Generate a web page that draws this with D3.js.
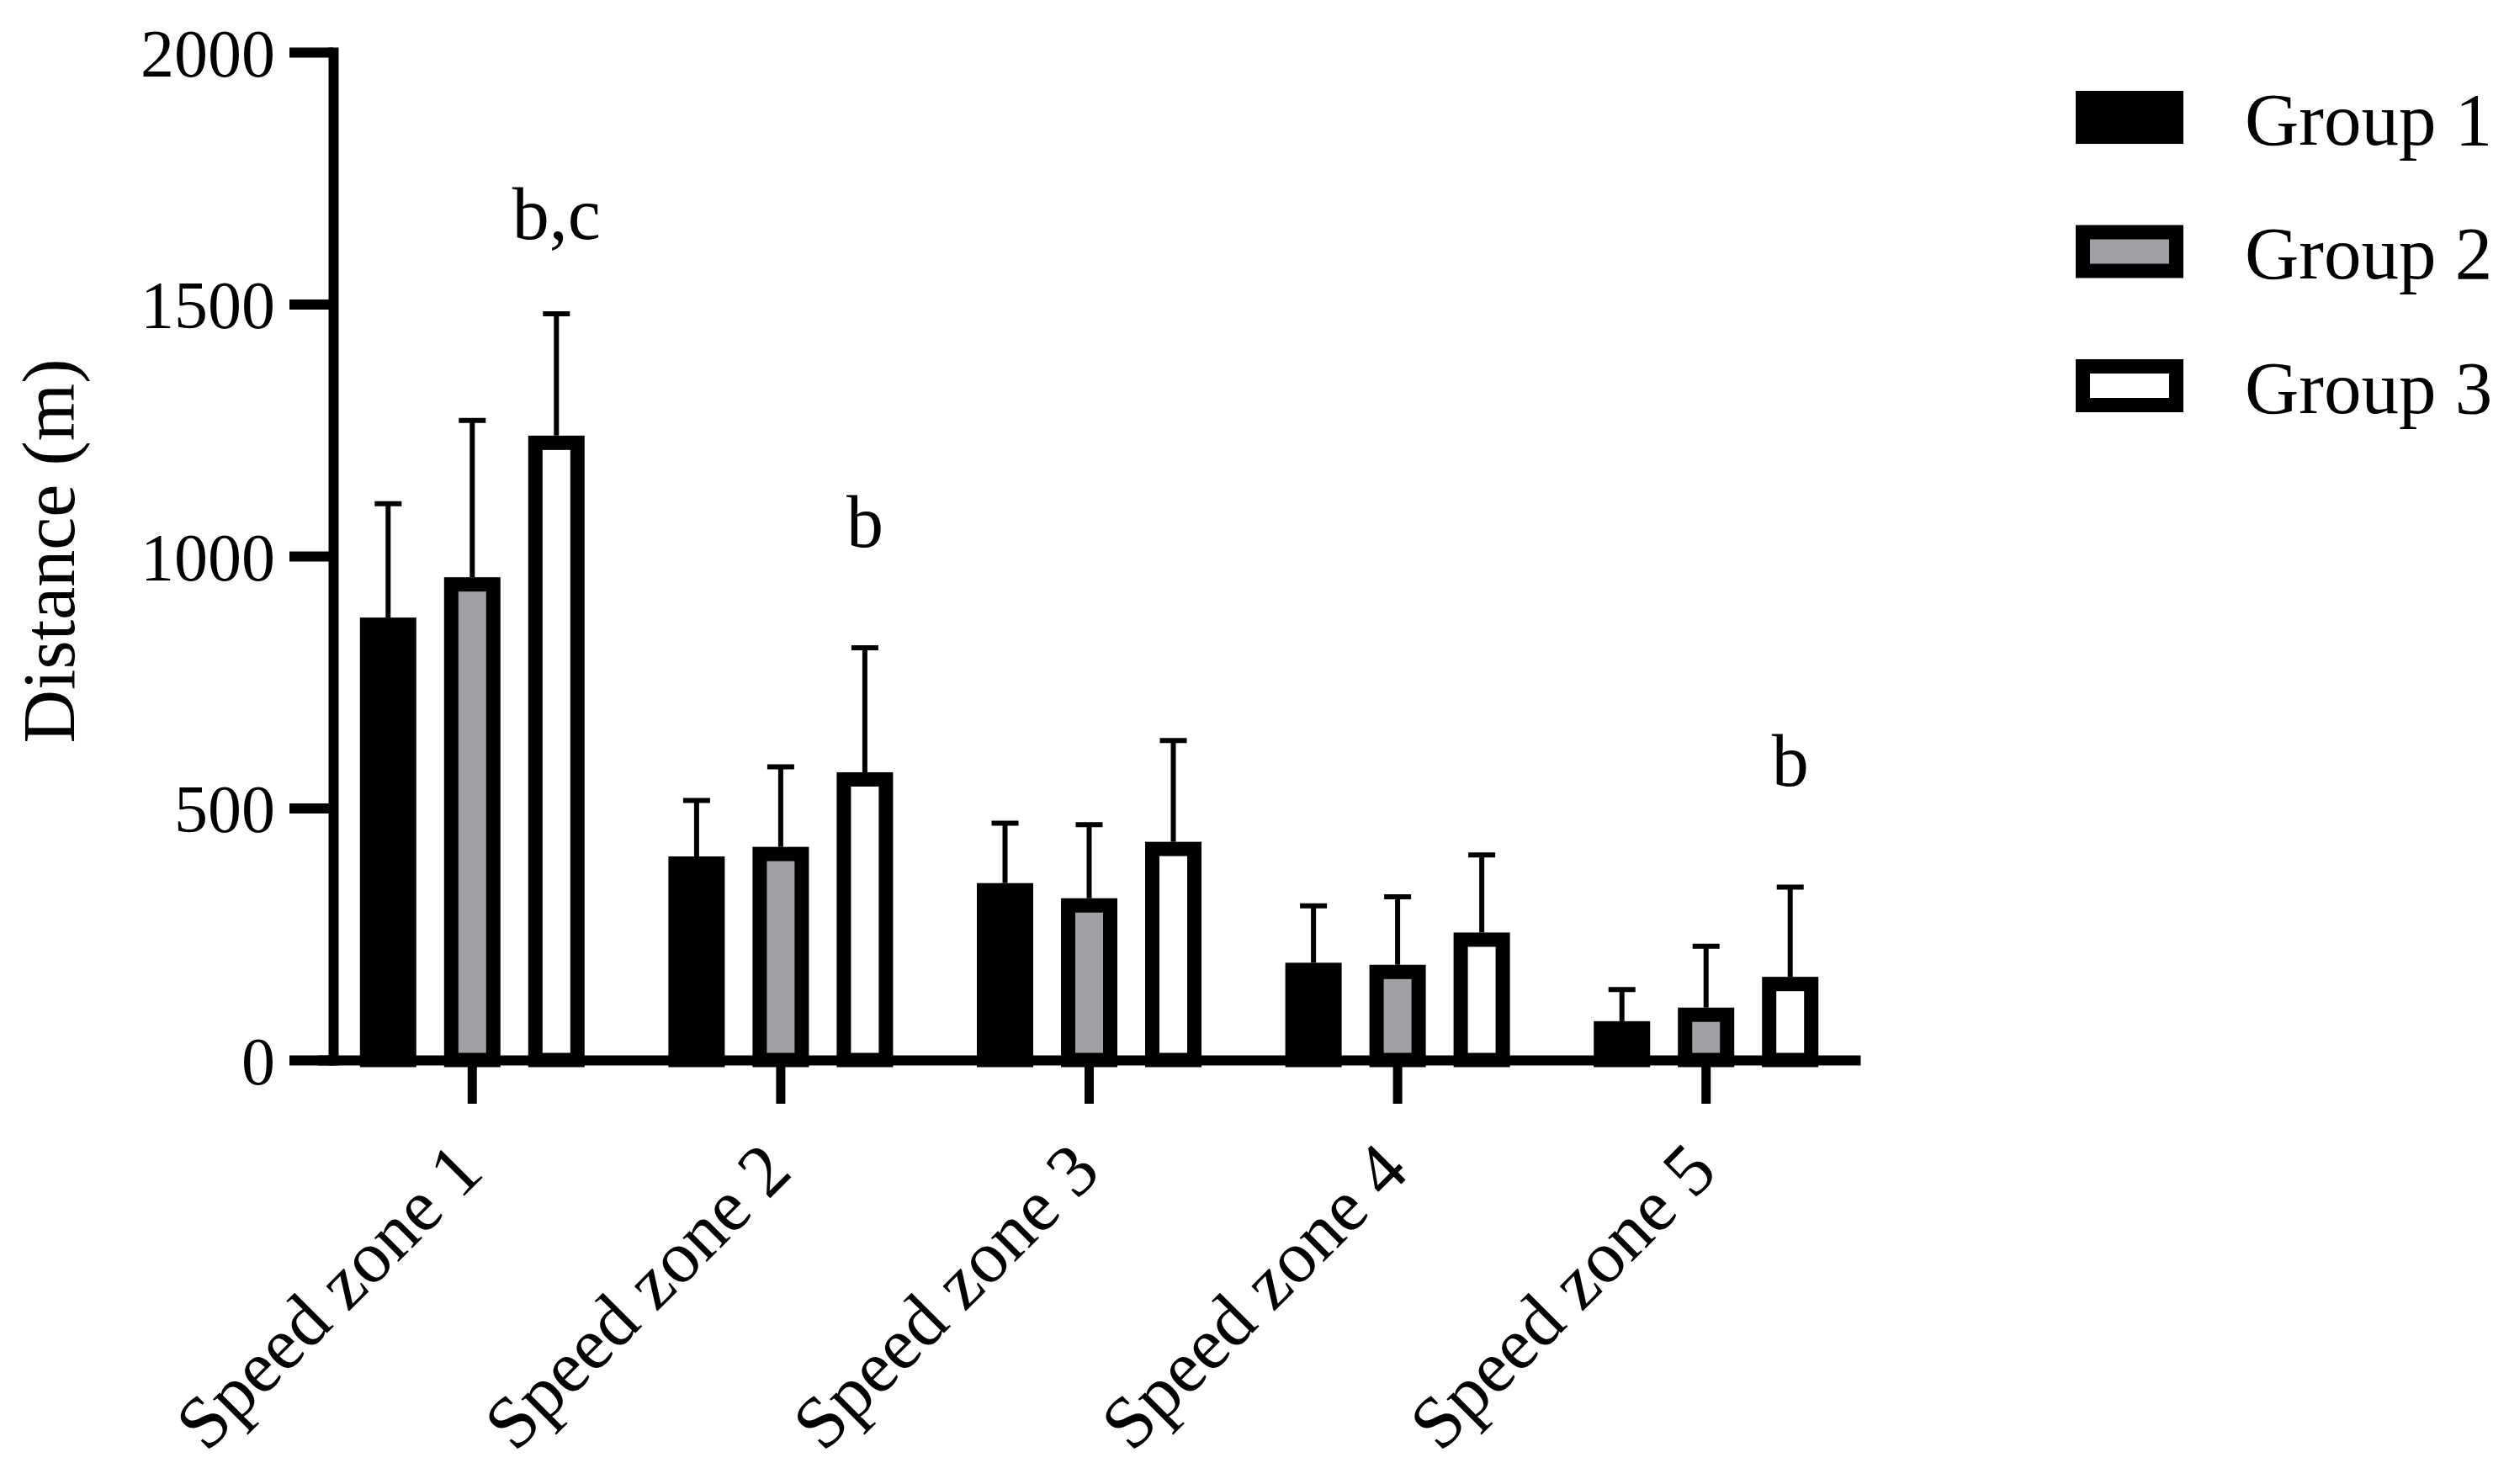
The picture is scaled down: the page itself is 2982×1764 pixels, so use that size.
<!DOCTYPE html>
<html>
<head>
<meta charset="utf-8">
<script src="https://cdn.jsdelivr.net/npm/d3@7"></script>
<style>
  body { margin: 0; background: #fff; }
  text { font-family: "Liberation Serif", "DejaVu Serif", serif; fill: #000; }
</style>
</head>
<body>
<svg id="chart" width="2982" height="1764"></svg>
<script>
// values (mean and SD, metres)
var zones = ["Speed zone 1", "Speed zone 2", "Speed zone 3", "Speed zone 4", "Speed zone 5"];
var groups = ["Group 1", "Group 2", "Group 3"];
var group1Mean = [878, 404, 351, 193, 77];
var group2Mean = [958, 423, 321, 189, 104];
var group3Mean = [1239, 571, 433, 253, 165];
var group1SD = [226, 111, 119, 113, 63];
var group2SD = [311, 159, 146, 135, 122];
var group3SD = [242, 247, 201, 154, 178];
var yTicks = [0, 500, 1000, 1500, 2000];
// significance letters above group 3 (baseline given in data units)
var annotText = ["b,c", "b", "", "", "b"];
var annotValue = [1630, 1018, 0, 0, 545];

var fills = ["#000000", "#a1a1a5", "#ffffff"];
var strokeW = 17;

var svg = d3.select("#chart");

var y = d3.scaleLinear().domain([0, 2000]).range([1260, 62]);
var x0 = d3.scaleBand().domain(zones).range([378, 2211]);
var x1 = d3.scaleBand().domain(groups).range([-150, 150]).paddingInner(0.33).paddingOuter(0.165);

var means = [group1Mean, group2Mean, group3Mean];
var sds = [group1SD, group2SD, group3SD];

var data = [];
zones.forEach(function(z, i) {
    groups.forEach(function(g, j) {
        data.push({zone: z, group: g, gi: j, mean: means[j][i], sd: sds[j][i]});
    });
});

function cx(d) { return x0(d.zone) + x0.bandwidth() / 2 + x1(d.group) + x1.bandwidth() / 2; }

// bars (stroke kept inside the bar outline)
svg.append("g").selectAll("rect")
    .data(data)
    .enter().append("rect")
    .attr("x", function(d) { return cx(d) - x1.bandwidth() / 2 + strokeW / 2; })
    .attr("width", x1.bandwidth() - strokeW)
    .attr("y", function(d) { return y(d.mean) + strokeW / 2; })
    .attr("height", function(d) { return y(0) - y(d.mean) - strokeW / 2; })
    .attr("fill", function(d) { return fills[d.gi]; })
    .attr("stroke", "#000")
    .attr("stroke-width", strokeW);

// error bars (upper only)
var err = svg.append("g").selectAll("g")
    .data(data)
    .enter().append("g");
err.append("line")
    .attr("x1", cx).attr("x2", cx)
    .attr("y1", function(d) { return y(d.mean); })
    .attr("y2", function(d) { return y(d.mean + d.sd); })
    .attr("stroke", "#000").attr("stroke-width", 6);
err.append("line")
    .attr("x1", function(d) { return cx(d) - 16; })
    .attr("x2", function(d) { return cx(d) + 16; })
    .attr("y1", function(d) { return y(d.mean + d.sd); })
    .attr("y2", function(d) { return y(d.mean + d.sd); })
    .attr("stroke", "#000").attr("stroke-width", 6);

// axes
var yAxis = svg.append("g")
    .attr("transform", "translate(396,0)")
    .call(d3.axisLeft(y).tickValues(yTicks).tickFormat(d3.format("d"))
        .tickSize(52).tickSizeOuter(0).tickPadding(17));
yAxis.select(".domain").attr("stroke", "#000").attr("stroke-width", 12).attr("stroke-linecap", "square");
yAxis.selectAll(".tick line").attr("stroke", "#000").attr("stroke-width", 12);
yAxis.selectAll(".tick text").style("font-size", "80px").attr("fill", "#000").attr("dy", "0.35em");

var xAxis = svg.append("g")
    .attr("transform", "translate(0," + y(0) + ")")
    .call(d3.axisBottom(x0).tickSize(52).tickSizeOuter(0));
xAxis.select(".domain").attr("stroke", "#000").attr("stroke-width", 12);
xAxis.selectAll(".tick line").attr("stroke", "#000").attr("stroke-width", 11);
xAxis.selectAll(".tick text")
    .style("font-size", "88px")
    .attr("fill", "#000")
    .attr("x", 0).attr("y", 0).attr("dy", 0)
    .attr("text-anchor", "end")
    .attr("transform", "translate(16,136) rotate(-45)");

// y title
svg.append("text")
    .attr("transform", "translate(88,655) rotate(-90)")
    .attr("text-anchor", "middle")
    .style("font-size", "88px")
    .text("Distance (m)");

// significance letters
svg.append("g").selectAll("text")
    .data(zones.map(function(z, i) { return {zone: z, text: annotText[i], v: annotValue[i]}; })
        .filter(function(d) { return d.text !== ""; }))
    .enter().append("text")
    .attr("x", function(d) { return cx({zone: d.zone, group: groups[2]}); })
    .attr("y", function(d) { return y(d.v); })
    .attr("text-anchor", "middle")
    .style("font-size", "88px")
    .text(function(d) { return d.text; });

// legend
var legend = svg.append("g").selectAll("g")
    .data(groups)
    .enter().append("g")
    .attr("transform", function(d, i) { return "translate(2467," + (139.5 + i * 159.5) + ")"; });
legend.append("rect")
    .attr("x", strokeW / 2).attr("y", -31.5 + strokeW / 2)
    .attr("width", 128 - strokeW).attr("height", 63 - strokeW)
    .attr("fill", function(d, i) { return fills[i]; })
    .attr("stroke", "#000").attr("stroke-width", strokeW);
legend.append("text")
    .attr("x", 201).attr("dy", "0.36em")
    .style("font-size", "89px")
    .text(function(d) { return d; });
</script>
</body>
</html>
